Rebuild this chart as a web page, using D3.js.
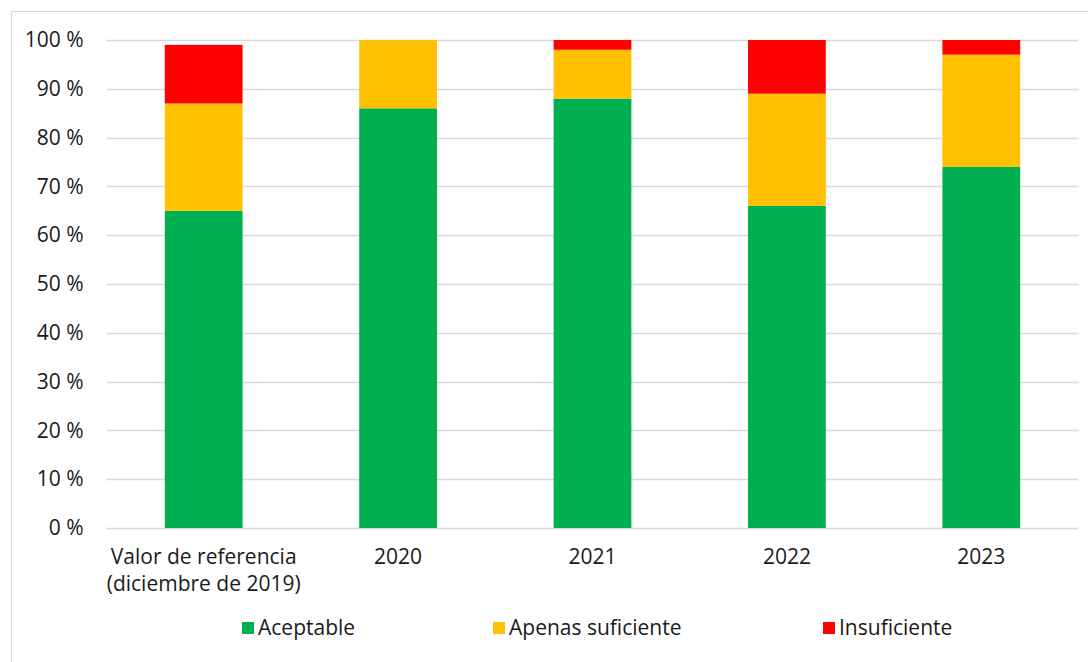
<!DOCTYPE html>
<html>
<head>
<meta charset="utf-8">
<script src="https://cdn.jsdelivr.net/npm/d3@7/dist/d3.min.js"></script>
<style>
  html, body { margin: 0; padding: 0; background: #fff; }
  svg { display: block; }
  text { font-family: "Open Sans", sans-serif; fill: #1a1a1a; }
</style>
</head>
<body>
<svg id="chart" width="1088" height="662"></svg>
<script>
// Share of each rating per period (percent)
const categories = [["Valor de referencia", "(diciembre de 2019)"], ["2020"], ["2021"], ["2022"], ["2023"]];
const seriesNames = ["Aceptable", "Apenas suficiente", "Insuficiente"];
const aceptable = [65, 86, 88, 66, 74];
const apenasSuficiente = [22, 14, 10, 23, 23];
const insuficiente = [12, 0, 2, 11, 3];
const yTicks = [0, 10, 20, 30, 40, 50, 60, 70, 80, 90, 100];
const colors = ["#00B050", "#FFC000", "#FF0000"];

const svg = d3.select("#chart");
const W = 1088, H = 662;
const fontSize = "21px";

// Outer frame (left and top edges visible)
svg.append("rect").attr("x", 11.5).attr("y", 11.5)
  .attr("width", W + 10).attr("height", H + 10)
  .attr("fill", "#fff").attr("stroke", "#d9d9d9").attr("stroke-width", 1);

const plot = { left: 106.5, right: 1078.5, top: 40, bottom: 528 };

const x = d3.scaleBand()
  .domain(d3.range(categories.length))
  .range([plot.left, plot.right])
  .paddingInner(0.6)
  .paddingOuter(0.3);

const y = d3.scaleLinear().domain([0, 100]).range([plot.bottom, plot.top]);

// Horizontal gridlines
svg.append("g").selectAll("line").data(yTicks).join("line")
  .attr("x1", plot.left).attr("x2", plot.right)
  .attr("y1", d => Math.round(y(d)) + 0.5).attr("y2", d => Math.round(y(d)) + 0.5)
  .attr("stroke", "#d9d9d9").attr("stroke-width", 1.5);

// Y axis labels
const yAxis = d3.axisLeft(y).tickValues(yTicks).tickSize(0).tickPadding(0)
  .tickFormat(d => d + " %");
svg.append("g").attr("transform", `translate(${plot.left - 23},0)`).call(yAxis)
  .call(g => g.select(".domain").remove())
  .selectAll("text")
  .style("font-family", "'Open Sans', sans-serif")
  .style("font-size", fontSize).attr("fill", "#1a1a1a");

// Stacked bars
const rows = categories.map((c, i) => ({
  i, "Aceptable": aceptable[i], "Apenas suficiente": apenasSuficiente[i], "Insuficiente": insuficiente[i]
}));
const stack = d3.stack().keys(seriesNames)(rows);

svg.append("g").selectAll("g").data(stack).join("g")
  .attr("fill", (d, k) => colors[k])
  .selectAll("rect").data(d => d.filter(s => s[1] - s[0] > 0)).join("rect")
  .attr("x", d => x(d.data.i))
  .attr("width", x.bandwidth())
  .attr("y", d => y(d[1]))
  .attr("height", d => y(d[0]) - y(d[1]));

// X axis labels
const xl = svg.append("g");
categories.forEach((lines, i) => {
  const t = xl.append("text")
    .attr("x", x(i) + x.bandwidth() / 2)
    .attr("y", 564)
    .attr("text-anchor", "middle")
    .style("font-size", fontSize);
  lines.forEach((ln, j) => {
    t.append("tspan").attr("x", x(i) + x.bandwidth() / 2)
      .attr("dy", j === 0 ? 0 : 27).text(ln);
  });
});

// Legend
const legendX = [242, 493, 823];
const legend = svg.append("g");
seriesNames.forEach((name, k) => {
  legend.append("rect").attr("x", legendX[k]).attr("y", 622)
    .attr("width", 12).attr("height", 12).attr("fill", colors[k]);
  legend.append("text").attr("x", legendX[k] + 16).attr("y", 635)
    .style("font-size", fontSize).text(name);
});
</script>
</body>
</html>
